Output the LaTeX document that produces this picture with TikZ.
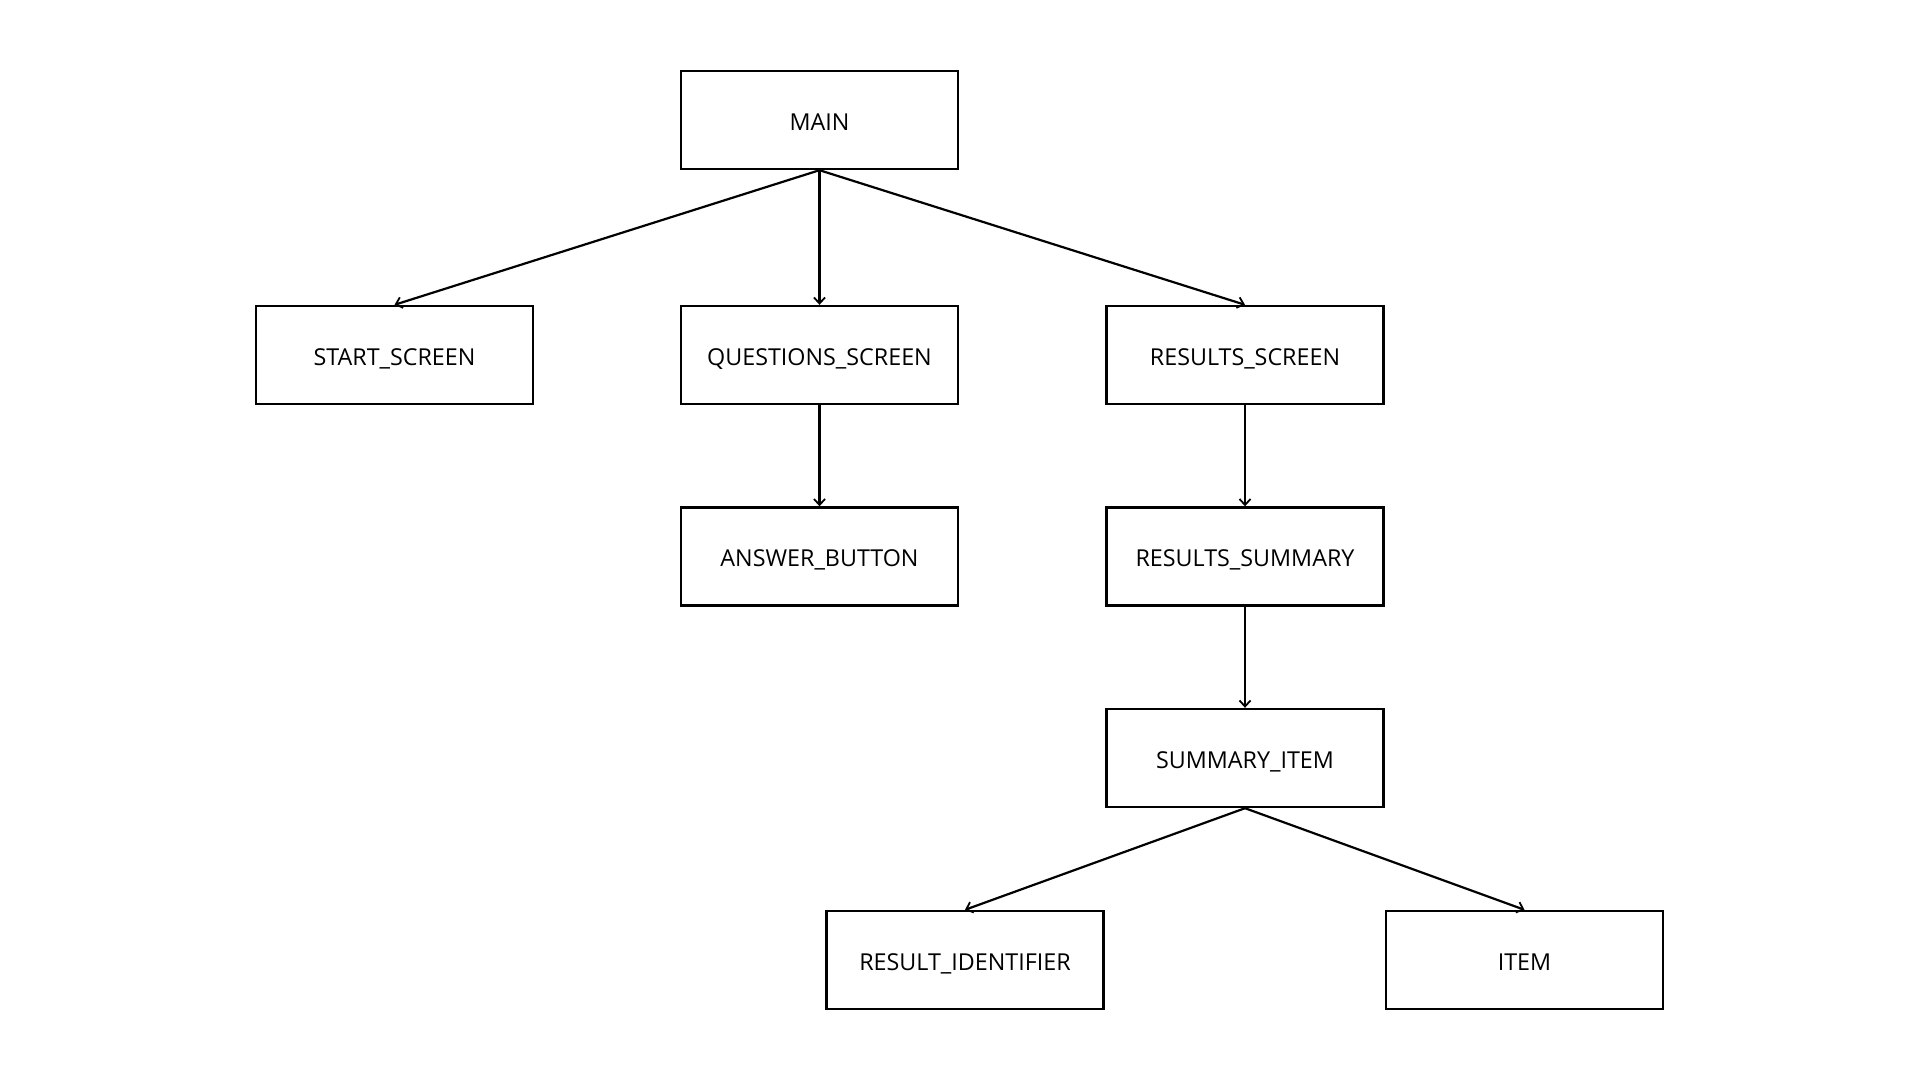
\documentclass[tikz,border=0pt]{standalone}
\usepackage{fontspec}
\setmainfont{Open Sans}
\usetikzlibrary{arrows.meta}
\begin{document}
\begin{tikzpicture}[x=1pt,y=-1pt,
  box/.style={draw, line width=2.4pt, minimum width=277pt, minimum height=98pt, inner sep=0pt, text height=20pt, text depth=0pt, font=\fontsize{23.3}{28}\selectfont, anchor=center},
  conn/.style={line width=2.2pt, -{Straight Barb[length=6pt,width=11pt,line width=1.8pt]}}]
\useasboundingbox (0,0) rectangle (1920,1080);
\node[box] (main) at (819.5,120) {MAIN};
\node[box] (start) at (394.5,355) {START\_SCREEN};
\node[box] (quest) at (819.5,355) {QUESTIONS\_SCREEN};
\node[box] (res) at (1245,355) {RESULTS\_SCREEN};
\node[box] (ans) at (819.5,556.5) {ANSWER\_BUTTON};
\node[box] (sum) at (1245,556.5) {RESULTS\_SUMMARY};
\node[box] (item) at (1245,758) {SUMMARY\_ITEM};
\node[box] (rid) at (965,960) {RESULT\_IDENTIFIER};
\node[box] (it) at (1524.5,960) {ITEM};
\draw[conn] (main.south) -- (start.north);
\draw[conn] (main.south) -- (quest.north);
\draw[conn] (main.south) -- (res.north);
\draw[conn] (quest.south) -- (ans.north);
\draw[conn] (res.south) -- (sum.north);
\draw[conn] (sum.south) -- (item.north);
\draw[conn] (item.south) -- (rid.north);
\draw[conn] (item.south) -- (it.north);
\end{tikzpicture}
\end{document}
